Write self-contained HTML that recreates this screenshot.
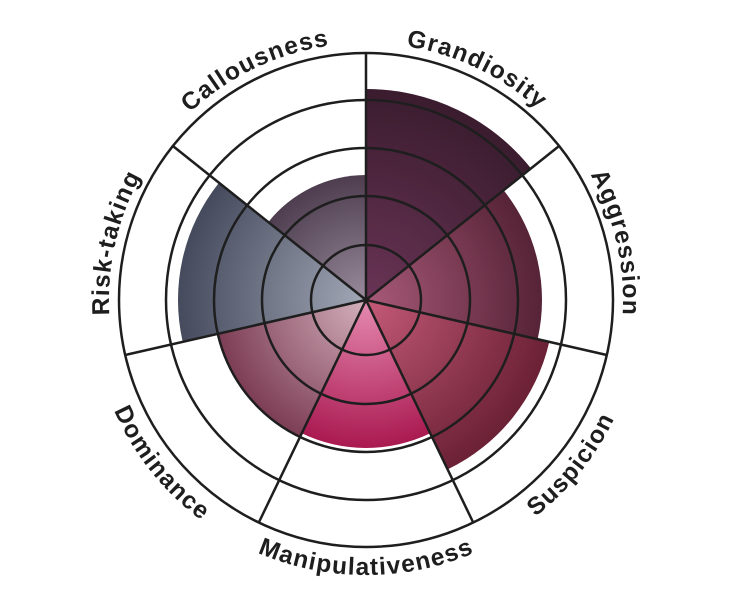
<!DOCTYPE html>
<html><head><meta charset="utf-8"><style>
html,body{margin:0;padding:0;background:#fff;}
svg{display:block;}
text{font-family:"Liberation Sans",sans-serif;font-weight:bold;font-size:24.5px;fill:#1e1e1e;letter-spacing:1.2px;}
</style></head><body>
<svg width="732" height="600" viewBox="0 0 732 600">
<defs>
<radialGradient id="g1" gradientUnits="userSpaceOnUse" cx="366" cy="300" r="215"><stop offset="0" stop-color="#6a3456"/><stop offset="1" stop-color="#3a1c2e"/></radialGradient>
<radialGradient id="g2" gradientUnits="userSpaceOnUse" cx="366" cy="300" r="180"><stop offset="0" stop-color="#a85a78"/><stop offset="1" stop-color="#552235"/></radialGradient>
<radialGradient id="g3" gradientUnits="userSpaceOnUse" cx="366" cy="300" r="190"><stop offset="0" stop-color="#c45a78"/><stop offset="1" stop-color="#6a2034"/></radialGradient>
<radialGradient id="g4" gradientUnits="userSpaceOnUse" cx="366" cy="300" r="152"><stop offset="0" stop-color="#e58ab0"/><stop offset="1" stop-color="#a8164e"/></radialGradient>
<radialGradient id="g5" gradientUnits="userSpaceOnUse" cx="366" cy="300" r="156"><stop offset="0" stop-color="#d4b0bc"/><stop offset="1" stop-color="#7a3a52"/></radialGradient>
<radialGradient id="g6" gradientUnits="userSpaceOnUse" cx="366" cy="300" r="190"><stop offset="0" stop-color="#a2a8b6"/><stop offset="1" stop-color="#444a5c"/></radialGradient>
<radialGradient id="g7" gradientUnits="userSpaceOnUse" cx="366" cy="300" r="128"><stop offset="0" stop-color="#9a8c9c"/><stop offset="1" stop-color="#4c3c4e"/></radialGradient>
<path id="cw" d="M 366,43 A 257 257 0 1 1 366,557 A 257 257 0 1 1 366,43"/>
<path id="ccw" d="M 366,25 A 275 275 0 1 0 366,575 A 275 275 0 1 0 366,25"/>
</defs>
<g transform="translate(0,1)">
<path d="M366,299 L366,88 A211 211 0 0 1 531,167.4 Z" fill="url(#g1)"/>
<path d="M366,299 L503.6,189.3 A176 176 0 0 1 537.6,338.2 Z" fill="url(#g2)"/>
<path d="M366,299 L549.3,340.8 A188 188 0 0 1 447.6,468.4 Z" fill="url(#g3)"/>
<path d="M366,299 L430.3,432.3 A148 148 0 0 1 301.7,432.3 Z" fill="url(#g4)"/>
<path d="M366,299 L300.1,435.8 A152 152 0 0 1 217.8,332.8 Z" fill="url(#g5)"/>
<path d="M366,299 L182.7,340.8 A188 188 0 0 1 219,181.8 Z" fill="url(#g6)"/>
<path d="M366,299 L268.3,221.1 A125 125 0 0 1 366,174 Z" fill="url(#g7)"/>
<g fill="none" stroke="#1e1e1e" stroke-width="2.5">
<circle cx="366" cy="299" r="55"/>
<circle cx="366" cy="299" r="104"/>
<circle cx="366" cy="299" r="152"/>
<circle cx="366" cy="299" r="200"/>
<circle cx="366" cy="299" r="247"/>
<line x1="366" y1="299" x2="366" y2="52"/>
<line x1="366" y1="299" x2="559.1" y2="145"/>
<line x1="366" y1="299" x2="606.8" y2="354"/>
<line x1="366" y1="299" x2="473.2" y2="521.5"/>
<line x1="366" y1="299" x2="258.8" y2="521.5"/>
<line x1="366" y1="299" x2="125.2" y2="354"/>
<line x1="366" y1="299" x2="172.9" y2="145"/>
</g>
</g>
<text text-anchor="middle"><textPath href="#cw" startOffset="115">Grandiosity</textPath></text>
<text text-anchor="middle"><textPath href="#cw" startOffset="346">Aggression</textPath></text>
<text text-anchor="middle"><textPath href="#cw" startOffset="1268">Risk-taking</textPath></text>
<text text-anchor="middle"><textPath href="#cw" startOffset="1499">Callousness</textPath></text>
<text text-anchor="middle"><textPath href="#ccw" startOffset="1110">Suspicion</textPath></text>
<text text-anchor="middle"><textPath href="#ccw" startOffset="864">Manipulativeness</textPath></text>
<text text-anchor="middle"><textPath href="#ccw" startOffset="617">Dominance</textPath></text>
</svg>
</body></html>
